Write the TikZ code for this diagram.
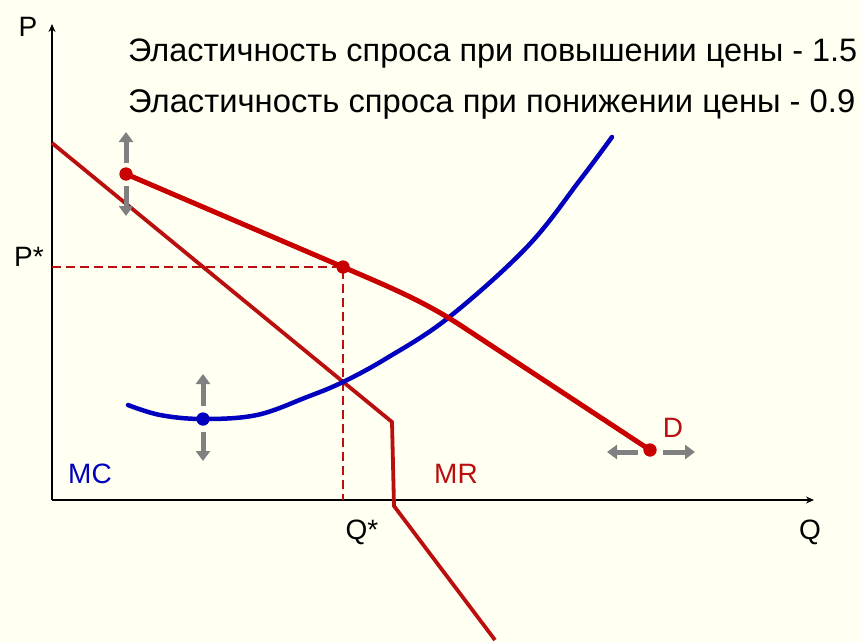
\documentclass[tikz,border=0pt]{standalone}
\usepackage{fontspec}
\setmainfont{Liberation Sans}
\usetikzlibrary{arrows.meta}
\definecolor{bgcol}{RGB}{255,255,242}
\definecolor{dred}{RGB}{200,0,0}
\definecolor{mrred}{RGB}{185,15,15}
\definecolor{mcblue}{RGB}{0,0,190}
\definecolor{shiftgray}{RGB}{128,128,128}
\begin{document}
\begin{tikzpicture}[x=1pt,y=-1pt,
  axisline/.style={line width=1.8pt,-{Stealth[length=8pt,width=7pt]}},
  dline/.style={dred,line width=5pt,line join=round,line cap=round},
  mrline/.style={mrred,line width=3.8pt,line join=miter},
  mcline/.style={mcblue,line width=4.5pt,line cap=round},
  guide/.style={mrred,line width=1.5pt,dash pattern=on 9pt off 5pt},
  shiftarrow/.style={shiftgray,line width=5pt,-{Triangle[length=10pt,width=14pt]}},
  reddot/.style={circle,fill=dred,inner sep=0pt,minimum size=13pt},
  bluedot/.style={circle,fill=mcblue,inner sep=0pt,minimum size=13pt},
  lbl/.style={font=\fontsize{28}{32}\selectfont,inner sep=0pt},
  toptext/.style={anchor=base west,inner sep=0pt,font=\fontsize{25}{28}\selectfont}
]
\fill[bgcol] (0,0) rectangle (861,642);
\useasboundingbox (0,0) rectangle (861,642);

% coordinates
\coordinate (O) at (52,500);
\coordinate (Ytop) at (52,24);
\coordinate (Xend) at (814,500);
\coordinate (Pax) at (52,267);
\coordinate (Qax) at (343,500);
\coordinate (M0) at (52,143);
\coordinate (M1) at (392,422);
\coordinate (M2) at (394,506);
\coordinate (M3) at (495,640);
\coordinate (K2) at (460,325);

% texts
\node[toptext] (t1) at (128,61) {\resizebox{729pt}{!}{Эластичность спроса при повышении цены - 1.5}};
\node[toptext] (t2) at (128,112) {\resizebox{727pt}{!}{Эластичность спроса при понижении цены - 0.9}};

% axes
\draw[axisline] (O) -- (Ytop);
\draw[axisline] (O) -- (Xend);

% dots (nodes)
\node[reddot] (d1) at (126,174) {};
\node[reddot] (pst) at (343,267) {};
\node[reddot] (d2) at (650,450) {};
\node[bluedot] (mcmin) at (203,419) {};

% guides
\draw[guide] (Pax) -- (pst.center) -- (Qax);

% MR
\draw[mrline] (M0) -- (M1) -- (M2) -- (M3);

% MC
\draw[mcline] plot[smooth,tension=0.6] coordinates {(128,405) (160,415) (203,419) (257,415) (307,397) (343,382) (387,358) (448,318) (527,247) (580,180) (612,137)};

% D
\draw[dline] (d1.center) -- (pst.center) .. controls (382,284) and (420,299) .. (K2) -- (d2.center);

% redraw dots on top
\fill[dred] (d1.center) circle (6.5pt);
\fill[dred] (pst.center) circle (6.5pt);
\fill[dred] (d2.center) circle (6.5pt);
\fill[mcblue] (mcmin.center) circle (6.5pt);

% shift arrows
\draw[shiftarrow] (126,163) -- (126,132);
\draw[shiftarrow] (126,186) -- (126,216);
\draw[shiftarrow] (203,406) -- (203,374);
\draw[shiftarrow] (203,432) -- (203,461);
\draw[shiftarrow] (638,452) -- (607,452);
\draw[shiftarrow] (663,452) -- (695,452);

% labels
\node[lbl] (lp) at (28,27) {P};
\node[lbl] (lps) at (29,257) {P*};
\node[lbl] (lqs) at (362,532) {Q*};
\node[lbl] (lq) at (810,532) {Q};
\node[lbl,text=mcblue] (lmc) at (90,474) {MC};
\node[lbl,text=mrred] (lmr) at (456,474) {MR};
\node[lbl,text=mrred] (ld) at (673,428) {D};
\end{tikzpicture}
\end{document}
